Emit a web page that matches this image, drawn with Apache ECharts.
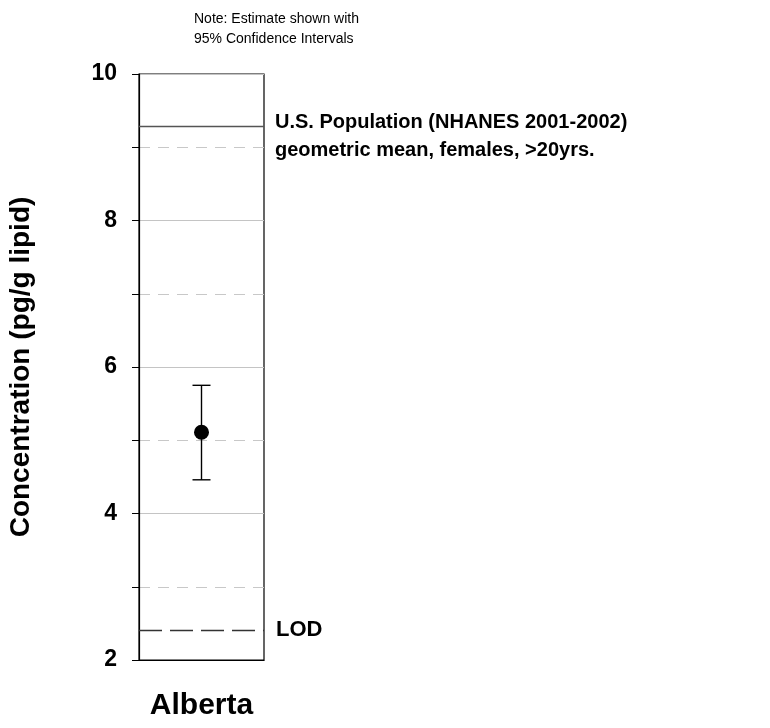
<!DOCTYPE html>
<html><head><meta charset="utf-8">
<script src="https://cdn.jsdelivr.net/npm/echarts@6/dist/echarts.min.js"></script>
<style>html,body{margin:0;padding:0;background:#fff}#c{width:770px;height:728px}</style>
</head><body><div id="c"></div>
<script>
var categories = ['Alberta'];
var estimate = [5.11];
var lower95 = [4.46];
var upper95 = [5.75];
var usPopulationMean = 9.28;
var lodValue = 2.4;
var yTicks = [2, 4, 6, 8, 10];

var chart = echarts.init(document.getElementById('c'));
var F = '"Liberation Sans", Arial, sans-serif';
chart.setOption({
  animation: false,
  grid: {left: 139, top: 74, width: 125, height: 586, show: true, borderColor: '#000', borderWidth: 1.2, backgroundColor: 'transparent'},
  xAxis: {
    type: 'category', data: categories, boundaryGap: true,
    axisLine: {lineStyle: {color: '#000', width: 1.2}},
    axisTick: {alignWithLabel: true, length: 8, lineStyle: {color: '#000'}},
    axisLabel: {fontFamily: F, fontWeight: 'bold', fontSize: 30, color: '#000', margin: 31}
  },
  yAxis: {
    type: 'value', min: yTicks[0], max: yTicks[yTicks.length - 1], interval: 2,
    axisLine: {show: true, lineStyle: {color: '#000', width: 1.2}},
    axisTick: {show: true, length: 7, lineStyle: {color: '#000'}},
    minorTick: {show: true, splitNumber: 2, length: 7, lineStyle: {color: '#000'}},
    splitLine: {show: true, lineStyle: {color: '#c4c4c4', width: 1}},
    minorSplitLine: {show: true, lineStyle: {color: '#c8c8c8', width: 1, type: [11, 8]}},
    axisLabel: {fontFamily: F, fontWeight: 'bold', fontSize: 23, color: '#000', margin: 22},
    name: 'Concentration (pg/g lipid)', nameLocation: 'middle', nameGap: 104, nameRotate: 90,
    nameTextStyle: {fontFamily: F, fontWeight: 'bold', fontSize: 28, color: '#000'}
  },
  series: [
    {
      type: 'custom', z: 3,
      data: categories.map(function (c, i) { return [i, lower95[i], upper95[i]]; }),
      renderItem: function (params, api) {
        var lo = api.coord([api.value(0), api.value(1)]);
        var hi = api.coord([api.value(0), api.value(2)]);
        var hw = 9;
        var st = {stroke: '#000', lineWidth: 1.4};
        return {type: 'group', children: [
          {type: 'line', shape: {x1: lo[0], y1: lo[1], x2: hi[0], y2: hi[1]}, style: st},
          {type: 'line', shape: {x1: lo[0] - hw, y1: lo[1], x2: lo[0] + hw, y2: lo[1]}, style: st},
          {type: 'line', shape: {x1: hi[0] - hw, y1: hi[1], x2: hi[0] + hw, y2: hi[1]}, style: st}
        ]};
      }
    },
    {
      type: 'scatter', z: 4, symbol: 'circle', symbolSize: 15,
      itemStyle: {color: '#000', opacity: 1},
      data: categories.map(function (c, i) { return [i, estimate[i]]; }),
      markLine: {
        silent: true, symbol: 'none', label: {show: false},
        data: [
          {yAxis: usPopulationMean, lineStyle: {color: '#555', width: 1.3, type: 'solid'}},
          {yAxis: lodValue, lineStyle: {color: '#333', width: 1.3, type: [23, 8]}}
        ]
      }
    }
  ],
  graphic: [
    {type: 'text', left: 194, top: 9, style: {text: 'Note: Estimate shown with\n95% Confidence Intervals', font: '14px ' + F, fill: '#000', lineHeight: 20}},
    {type: 'text', left: 275, top: 108, style: {text: 'U.S. Population (NHANES 2001-2002)\ngeometric mean, females, >20yrs.', font: 'bold 20px ' + F, fill: '#000', lineHeight: 28}},
    {type: 'text', left: 276, top: 619, style: {text: 'LOD', font: 'bold 22px ' + F, fill: '#000'}}
  ]
});
</script></body></html>
